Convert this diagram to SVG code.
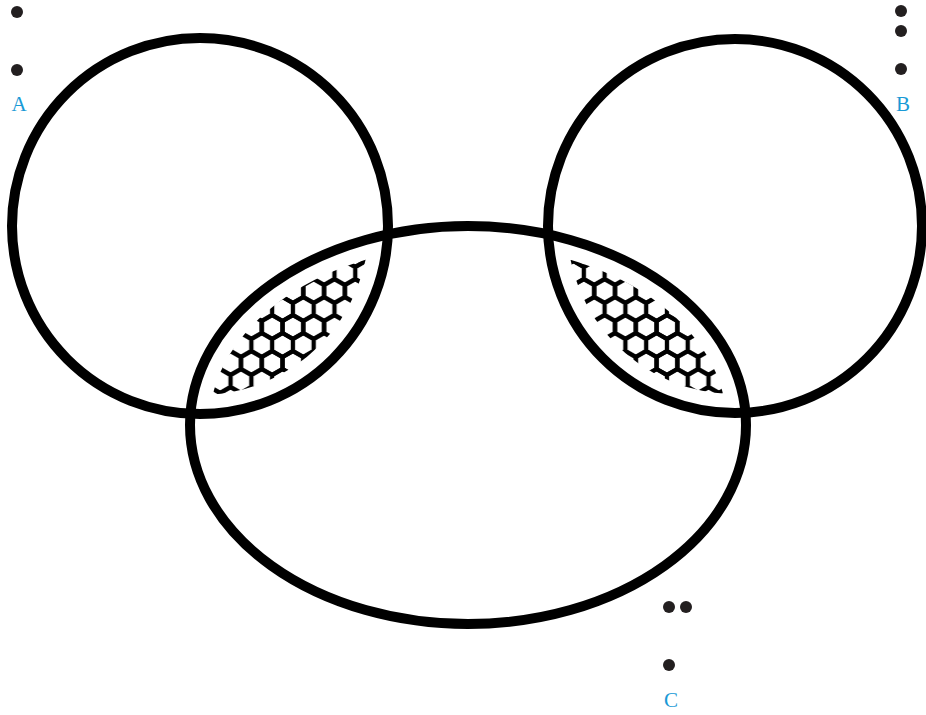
<svg xmlns="http://www.w3.org/2000/svg" width="926" height="715" viewBox="0 0 926 715">
<style>
.set{fill:none;stroke:#000;stroke-width:10}
.dot{fill:#231f20}
.lbl{font-family:"Liberation Serif","DejaVu Serif",serif;font-size:21px;fill:#1a9ad6;text-anchor:middle}
</style>
<defs>
<pattern id="hex" patternUnits="userSpaceOnUse" width="20.78" height="36" x="2" y="3">
<g fill="none" stroke="#000" stroke-width="4.3">
<path id="h" d="M0,-12 L10.39,-6 L10.39,6 L0,12 L-10.39,6 L-10.39,-6 Z"/>
<use href="#h" x="20.78"/>
<use href="#h" y="36"/>
<use href="#h" x="20.78" y="36"/>
<use href="#h" x="10.39" y="18"/>
</g>
</pattern>
<clipPath id="cA"><circle cx="200" cy="226" r="169"/></clipPath>
<clipPath id="cB"><circle cx="735" cy="226" r="168"/></clipPath>
<clipPath id="cC"><ellipse cx="468" cy="425" rx="259" ry="180"/></clipPath>
</defs>
<g id="hatch-AC" clip-path="url(#cC)"><rect x="150" y="200" width="300" height="250" fill="url(#hex)" clip-path="url(#cA)"/></g>
<g id="hatch-BC" clip-path="url(#cC)"><rect x="500" y="200" width="300" height="250" fill="url(#hex)" clip-path="url(#cB)"/></g>
<g id="setA"><circle class="set" cx="200" cy="226" r="188"/></g>
<g id="setB"><circle class="set" cx="735" cy="226" r="187"/></g>
<g id="setC"><ellipse class="set" cx="468" cy="425" rx="278" ry="199"/></g>
<g id="labelA"><circle class="dot" cx="17" cy="12" r="6"/><circle class="dot" cx="17" cy="70" r="6"/><text class="lbl" x="19" y="111">A</text></g>
<g id="labelB"><circle class="dot" cx="901" cy="11" r="6"/><circle class="dot" cx="901" cy="31" r="6"/><circle class="dot" cx="901" cy="69" r="6"/><text class="lbl" x="903" y="111">B</text></g>
<g id="labelC"><circle class="dot" cx="669" cy="607" r="6"/><circle class="dot" cx="686" cy="607" r="6"/><circle class="dot" cx="669" cy="665" r="6"/><text class="lbl" x="671" y="707">C</text></g>
<g id="connectors"/>
</svg>
